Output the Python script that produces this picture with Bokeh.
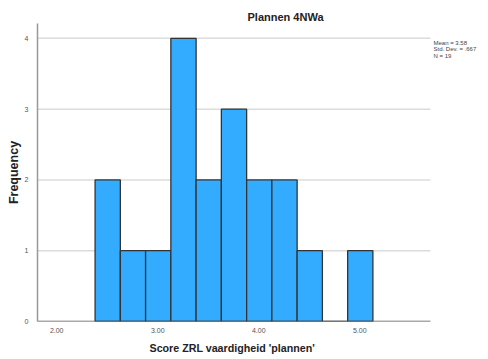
from bokeh.plotting import figure
from bokeh.models import Range1d, FixedTicker, Label, Title
from bokeh.embed import file_html
from bokeh.resources import INLINE

# histogram bins (left edges), bin width and counts
bin_lefts = [2.38, 2.63, 2.88, 3.13, 3.38, 3.63, 3.88, 4.13, 4.38, 4.63, 4.88]
bin_width = 0.25
counts = [2, 1, 1, 4, 2, 3, 2, 2, 1, 0, 1]
x_ticks = [2.0, 3.0, 4.0, 5.0]
x_tick_labels = ["2.00", "3.00", "4.00", "5.00"]
y_ticks = [0, 1, 2, 3, 4]
stats_lines = ["Mean = 3.58", "Std. Dev. = .667", "N = 19"]

# axis extent (data units) and the wider canvas range used to host the stats text
x_axis_start, x_axis_end = 1.81, 5.70
x_view_end = 6.195
y_top = 4.21

p = figure(width=480, height=359, output_backend="svg", toolbar_location=None,
           x_range=Range1d(x_axis_start, x_view_end), y_range=Range1d(0, y_top),
           min_border_left=37, min_border_right=0, min_border_top=23, min_border_bottom=38)
p.outline_line_color = None
p.background_fill_color = "white"

t = Title(text="Plannen 4NWa", align="left", offset=210, text_font="Arial",
          text_font_size="11px", text_font_style="bold", text_color="#222222", standoff=2)
p.add_layout(t, "above")

xt = Title(text="Score ZRL vaardigheid 'plannen'", align="left", offset=112, text_font="Arial",
           text_font_size="10.7px", text_font_style="bold", text_color="#222222", standoff=8)
p.add_layout(xt, "below")

# horizontal grid lines (only across the axis extent)
grid_y = y_ticks[1:]
p.segment(x0=[x_axis_start] * len(grid_y), x1=[x_axis_end] * len(grid_y), y0=grid_y, y1=grid_y,
          line_color="#dcdcdc", line_width=1.5)

rights = [b + bin_width for b in bin_lefts]
p.quad(left=bin_lefts, right=rights, bottom=0, top=counts,
       fill_color="#33abff", line_color="#333333", line_width=1.3)

# x axis baseline across the axis extent
p.segment(x0=[x_axis_start], x1=[x_axis_end], y0=[0], y1=[0], line_color="#555555", line_width=1.5)

p.xgrid.grid_line_color = None
p.ygrid.grid_line_color = None

p.xaxis.ticker = FixedTicker(ticks=x_ticks)
p.xaxis.major_label_overrides = {t_: l for t_, l in zip(x_ticks, x_tick_labels)}
p.yaxis.ticker = FixedTicker(ticks=y_ticks)
for ax in (p.xaxis, p.yaxis):
    ax.major_tick_line_color = None
    ax.minor_tick_line_color = None
    ax.major_label_text_font = "Arial"
    ax.major_label_text_font_size = "7px"
    ax.major_label_text_color = "#555555"
    ax.axis_label_text_font = "Arial"
    ax.axis_label_text_font_style = "bold"
    ax.axis_label_text_color = "#222222"
p.xaxis.axis_line_color = None
p.yaxis.axis_line_color = "#999999"
p.yaxis.axis_line_width = 1.5
p.xaxis.major_label_standoff = 0
p.yaxis.major_label_standoff = 3
p.yaxis.axis_label = "Frequency"
p.yaxis.axis_label_text_font_size = "12.5px"
p.yaxis.axis_label_standoff = 1

for i, line in enumerate(stats_lines):
    p.add_layout(Label(x=5.73, y=3.94 - i * 0.092, text=line, text_font="Arial",
                       text_font_size="6px", text_color="#444444",
                       text_baseline="middle"))

open("out.html", "w").write(file_html(p, INLINE))
